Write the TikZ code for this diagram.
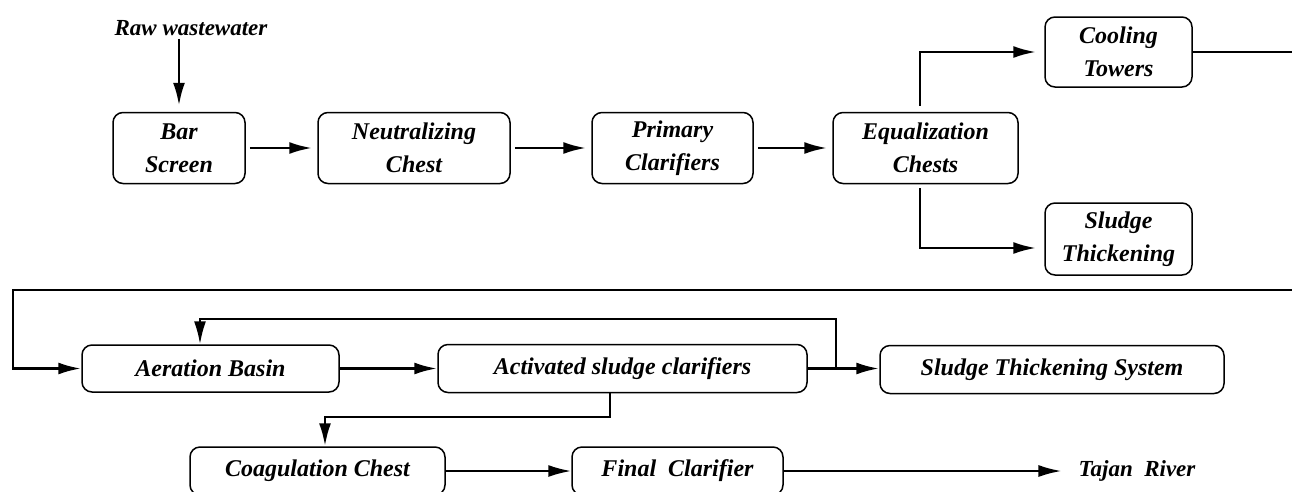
\documentclass[tikz,border=0pt]{standalone}
\usepackage{fontspec}
\setmainfont{Liberation Serif}
\usetikzlibrary{arrows.meta}

\tikzset{
    unit/.style={draw, line width=1.5pt, rounded corners=10pt, inner sep=0pt,
                 align=center, font=\fontsize{24}{33}\selectfont\bfseries\itshape},
    label/.style={inner sep=0pt, font=\fontsize{23}{28}\selectfont\bfseries\itshape},
    flow/.style={line width=2.8pt, -{Latex[length=23pt,width=12pt]}},
    pipe/.style={line width=2.8pt},
    gap/.style={shorten <=4pt, shorten >=5pt},
}

\begin{document}
\begin{tikzpicture}[x=1pt,y=-1pt]
    \useasboundingbox (0,0) rectangle (1292,491);

    % first line of the plant
    \node[label] (raw) at (191,28) {Raw wastewater};
    \node[unit, minimum width=132, minimum height=71] (bar) at (179,148) {Bar\\Screen};
    \node[unit, minimum width=192, minimum height=71] (neut) at (414,148) {Neutralizing\\Chest};
    \node[unit, minimum width=161, minimum height=71] (prim) at (672.5,148) {Primary\\Clarifiers};
    \node[unit, minimum width=185, minimum height=71] (equal) at (925.5,148) {Equalization\\Chests};
    \node[unit, minimum width=147, minimum height=70] (cool) at (1118.5,52) {Cooling\\Towers};
    \node[unit, minimum width=147, minimum height=72] (thick) at (1118.5,239) {Sludge\\Thickening};

    \draw[flow, shorten <=3pt, shorten >=6pt] (raw.south -| bar) -- (bar.north);
    \draw[flow, gap] (bar) -- (neut);
    \draw[flow, gap] (neut) -- (prim);
    \draw[flow, gap] (prim) -- (equal);
    \draw[flow, shorten <=6pt, shorten >=8pt] ([xshift=-5.5pt]equal.north) |- (cool.west);
    \draw[flow, shorten <=4pt, shorten >=8pt] ([xshift=-5.5pt]equal.south) |- ([yshift=-9pt]thick.west);

    % line out of the towers, carried on below
    \coordinate (outR) at (1292,52);
    \coordinate (inR) at (1292,290);
    \coordinate (inL) at (13,290);
    \draw[pipe] (cool.east) -- (outR);

    % second line of the plant
    \node[unit, minimum width=257, minimum height=47] (aer) at (210.5,368.5) {Aeration Basin};
    \node[unit, minimum width=369, minimum height=48] (act) at (622.5,368.5) {Activated sludge clarifiers};
    \node[unit, minimum width=344, minimum height=48] (sts) at (1052,369.5) {Sludge Thickening System};
    \node[unit, minimum width=255, minimum height=48] (coag) at (317.5,471) {Coagulation Chest};
    \node[unit, minimum width=211, minimum height=48] (final) at (677.5,471) {Final\ \ Clarifier};
    \node[label] (river) at (1137,471) {Tajan\ \ River};

    \draw[flow] (inR) -- (inL) |- (aer.west);
    \draw[flow] (aer) -- (act);
    \draw[flow] (act.east) -- (act.east -| sts.west);
    \coordinate (ret) at (836,368.5);
    \coordinate (retTop) at (836,319);
    \draw[flow, line width=2.2pt] (ret) -- (retTop) -| ([xshift=-10.5pt]aer.north);
    \coordinate (down) at (610,417);
    \draw[flow] ([xshift=-12.5pt]act.south) -- (down) -| ([xshift=7.5pt]coag.north);
    \draw[flow, line width=2.2pt] (coag) -- (final);
    \draw[flow, line width=2.2pt, shorten >=17pt] (final.east) -- (final.east -| river.west);
\end{tikzpicture}
\end{document}
